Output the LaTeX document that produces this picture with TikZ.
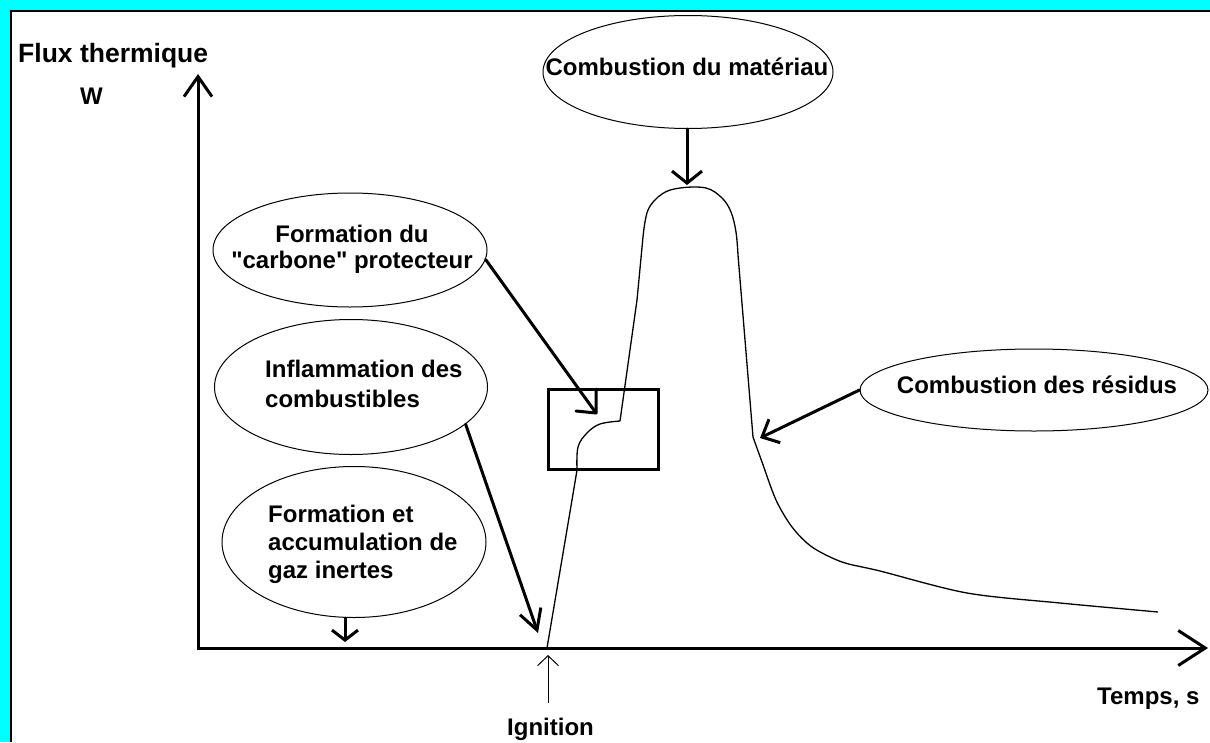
\documentclass[tikz,border=0pt]{standalone}
\usepackage{fontspec}
\setmainfont{Liberation Sans}[Ligatures=TeXOff]
\usetikzlibrary{arrows.meta,shapes.geometric}
\definecolor{bgcyan}{RGB}{0,255,255}
\begin{document}
\begin{tikzpicture}[x=1pt,y=-1pt,
  lbl/.style={font=\fontsize{24}{28}\selectfont\bfseries, inner sep=0pt},
  bubble/.style={draw, ellipse, line width=1pt, inner sep=0pt},
  arr/.style={line width=3pt, line cap=round, line join=round},
  curve/.style={line width=1.3pt, line join=round},
]
\useasboundingbox (0,0) rectangle (1210,742);
\fill[bgcyan] (0,0) rectangle (1210,742);
\fill[white] (10,10) rectangle (1210,742);
\draw[line width=2pt] (10.5,742) -- (10.5,10.8) -- (1210,10.8);

% axes
\coordinate (ytip) at (198,74);
\coordinate (O) at (198,648);
\coordinate (xtip) at (1208,648);
\draw[line width=3pt, {Straight Barb[length=20pt,width=28pt]}-{Straight Barb[length=27pt,width=35pt]}] (ytip) -- (O) -- (xtip);

% labels of axes
\node[lbl, anchor=base west, font=\fontsize{26.5}{30}\selectfont\bfseries] (ylab) at (18,62) {Flux thermique};
\node[lbl, anchor=base west] (yunit) at (80,104) {W};
\node[lbl, anchor=base west] (xlab) at (1097,704) {Temps, s};
\node[lbl, anchor=base west] (ignlbl) at (507,735) {Ignition};

% curve
\coordinate (ign) at (547,648);
\draw[curve] (ign) -- (572,500) -- (577,470)
  -- plot[smooth,tension=0.6] coordinates {(577,470) (578,447) (587,433) (600,424) (620,421)}
  -- (637,300) -- (643,237)
  -- plot[smooth,tension=0.6] coordinates {(643,237) (648,210) (662,194) (680,188) (706,188) (722,198) (731,212) (736,232) (738,255)}
  -- (753,437)
  -- plot[smooth,tension=0.5] coordinates {(753,437) (762,462) (776,500) (792,527) (812,547) (842,562) (880,571) (967,593) (1060,603) (1158,612)};

% box
\node[draw, line width=3pt, minimum width=110pt, minimum height=80pt, inner sep=0pt] (box) at (603,429) {};

% ellipses
\node[bubble, minimum width=290pt, minimum height=113pt] (mat) at (688,72) {};
\node[bubble, minimum width=274pt, minimum height=114pt] (carb) at (350,250) {};
\node[bubble, minimum width=273pt, minimum height=135pt] (inf) at (351,387) {};
\node[bubble, minimum width=264pt, minimum height=151pt] (gaz) at (354,542) {};
\node[bubble, minimum width=348pt, minimum height=82pt] (res) at (1034,390) {};

% ellipse texts
\node[lbl, anchor=base] (mattxt) at (687,75) {Combustion du matériau};
\node[lbl, anchor=base] (restxt) at (1037,393) {Combustion des résidus};
\node[lbl, align=center, anchor=north, font=\fontsize{24}{26.5}\selectfont\bfseries] (carbtxt) at (352,224.5) {Formation du\\"carbone" protecteur};
\node[lbl, align=left, anchor=north west, font=\fontsize{24}{30}\selectfont\bfseries] (inftxt) at (265,359.5) {Inflammation des\\combustibles};
\node[lbl, align=left, anchor=north west, font=\fontsize{24}{28}\selectfont\bfseries] (gaztxt) at (268,504.5) {Formation et\\accumulation de\\gaz inertes};

% arrows
\coordinate (peak) at (687,185);
\draw[arr, -{Straight Barb[length=12pt,width=30pt]}] (peak |- mat.south) -- (peak);

\coordinate (knee) at (596,413);
\draw[arr] (carb.-4) -- (knee);
\draw[arr] (knee) ++(0,-24) -- (knee) -- ++(-20,-2);

\coordinate (inftip) at (538,633);
\draw[arr, -{Straight Barb[length=20pt,width=22pt]}] (inf.-18) -- (inftip);

\coordinate (gazend) at (345,642);
\draw[arr, -{Straight Barb[length=10pt,width=26pt]}] (gazend |- gaz.south) -- (gazend);

\coordinate (resend) at (760,438);
\draw[arr, -{Straight Barb[length=14pt,width=26pt]}] (res.west) -- (resend);

\coordinate (ignfoot) at (548,703);
\coordinate (igntip) at (548,655);
\draw[line width=1pt, -{Straight Barb[length=10pt,width=21pt]}] (ignfoot) -- (igntip);
\end{tikzpicture}
\end{document}
